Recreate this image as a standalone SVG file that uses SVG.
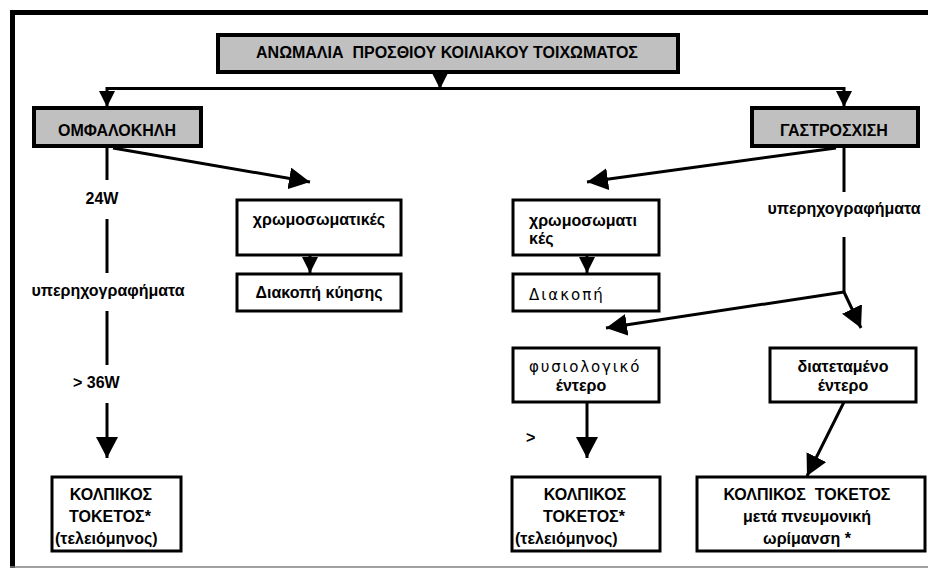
<svg xmlns="http://www.w3.org/2000/svg" width="928" height="569" viewBox="0 0 928 569">
<style>
.t{font-family:"Liberation Sans",Arial,sans-serif;font-weight:bold;font-size:16px;fill:#000;white-space:pre}
.m{text-anchor:middle}
.r{font-family:"DejaVu Sans",Verdana,sans-serif;font-weight:normal;font-size:15px;fill:#000}
.g{fill:#c0c0c0;stroke:#000;stroke-width:4}
.w{fill:#fff;stroke:#000;stroke-width:3}
.c{fill:none;stroke:#000;stroke-width:3}
.cb{marker-end:url(#big)}
.cs{marker-end:url(#small)}
</style>
<defs>
<marker id="big" markerUnits="userSpaceOnUse" markerWidth="22" markerHeight="22" refX="21" refY="11" orient="auto" viewBox="0 0 22 22">
<path d="M0,0 L21,11 L0,22 Z" fill="#000"/>
</marker>
<marker id="small" markerUnits="userSpaceOnUse" markerWidth="16" markerHeight="16" refX="16" refY="8" orient="auto" viewBox="0 0 16 16">
<path d="M0,0 L16,8 L0,16 Z" fill="#000"/>
</marker>
</defs>
<rect width="928" height="569" fill="#fff"/>
<g id="frame">
<path d="M12.5,568 L12.5,12.5 L928,12.5" fill="none" stroke="#000" stroke-width="5"/>
<line x1="10" y1="567" x2="928" y2="567" stroke="#808080" stroke-width="1.5"/>
</g>
<g id="connectors">
<path class="c cs" d="M440,73 L440,89"/>
<path class="c cs" d="M440,88.5 L107,88.5 L107,107"/>
<path class="c cs" d="M440,88.5 L844,88.5 L844,107"/>
<path class="c cb" d="M113,148 L310,182"/>
<path class="c" d="M107,147 L107,180 M107,219 L107,273 M107,311 L107,365"/>
<path class="c cb" d="M107,403 L107,458"/>
<path class="c cs" d="M310,255 L310,273"/>
<path class="c cb" d="M836,148 L587,182"/>
<path class="c" d="M844,147 L844,192 M844,237 L844,292"/>
<path class="c cb" d="M844,292 L606,328"/>
<path class="c cb" d="M844,292 L861,328"/>
<path class="c cs" d="M587,255 L587,273"/>
<path class="c cb" d="M587,402 L587,458"/>
<path class="c cb" d="M844,402 L807,476"/>
</g>
<g id="title">
<rect class="g" x="218" y="35" width="460" height="37"/>
<text class="t m" x="447" y="58">ΑΝΩΜΑΛΙΑ  ΠΡΟΣΘΙΟΥ ΚΟΙΛΙΑΚΟΥ ΤΟΙΧΩΜΑΤΟΣ</text>
</g>
<g id="omfalokili">
<rect class="g" x="34" y="108" width="167" height="38"/>
<text class="t m" x="117" y="136">ΟΜΦΑΛΟΚΗΛΗ</text>
</g>
<g id="gastroschisi">
<rect class="g" x="752" y="108" width="166" height="38"/>
<text class="t m" x="834" y="136">ΓΑΣΤΡΟΣΧΙΣΗ</text>
</g>
<g id="label-24w"><text class="t m" x="102" y="204">24W</text></g>
<g id="label-yper-left"><text class="t m" x="108" y="296">υπερηχογραφήματα</text></g>
<g id="label-36w"><text class="t" x="73" y="388">&gt; 36W</text></g>
<g id="label-yper-right"><text class="t m" x="844" y="214">υπερηχογραφήματα</text></g>
<g id="label-gt"><text class="t" x="526" y="443">&gt;</text></g>
<g id="chrom-left">
<rect class="w" x="237" y="200" width="164" height="55"/>
<text class="t m" x="319" y="225">χρωμοσωματικές</text>
</g>
<g id="diakopi-kyisis">
<rect class="w" x="237" y="274" width="164" height="37"/>
<text class="t m" x="319" y="298">Διακοπή κύησης</text>
</g>
<g id="chrom-right">
<rect class="w" x="513" y="200" width="146" height="55"/>
<text class="t" x="529" y="226">χρωμοσωματι</text>
<text class="t" x="529" y="244">κές</text>
</g>
<g id="diakopi">
<rect class="w" x="513" y="274" width="146" height="37"/>
<text class="r" x="529" y="300" font-size="16" letter-spacing="2">Διακοπή</text>
</g>
<g id="fysiologiko">
<rect class="w" x="513" y="348" width="146" height="54"/>
<text class="r" x="529" y="372" letter-spacing="1.8">φυσιολογικό</text>
<text class="t m" x="581" y="391">έντερο</text>
</g>
<g id="diatetameno">
<rect class="w" x="770" y="348" width="146" height="54"/>
<text class="t m" x="843" y="372">διατεταμένο</text>
<text class="t m" x="843" y="391">έντερο</text>
</g>
<g id="kolpikos-left">
<rect class="w" x="52" y="477" width="129" height="74"/>
<text class="t m" x="111" y="500">ΚΟΛΠΙΚΟΣ</text>
<text class="t m" x="110" y="522">ΤΟΚΕΤΟΣ*</text>
<text class="t" x="55" y="544">(τελειόμηνος)</text>
</g>
<g id="kolpikos-mid">
<rect class="w" x="512" y="477" width="148" height="74"/>
<text class="t m" x="585" y="500">ΚΟΛΠΙΚΟΣ</text>
<text class="t m" x="584" y="522">ΤΟΚΕΤΟΣ*</text>
<text class="t" x="515" y="544">(τελειόμηνος)</text>
</g>
<g id="kolpikos-right">
<rect class="w" x="697" y="477" width="228" height="74"/>
<text class="t m" x="807" y="500">ΚΟΛΠΙΚΟΣ  ΤΟΚΕΤΟΣ</text>
<text class="t m" x="807" y="522">μετά πνευμονική</text>
<text class="t m" x="807" y="544">ωρίμανση *</text>
</g>
</svg>
